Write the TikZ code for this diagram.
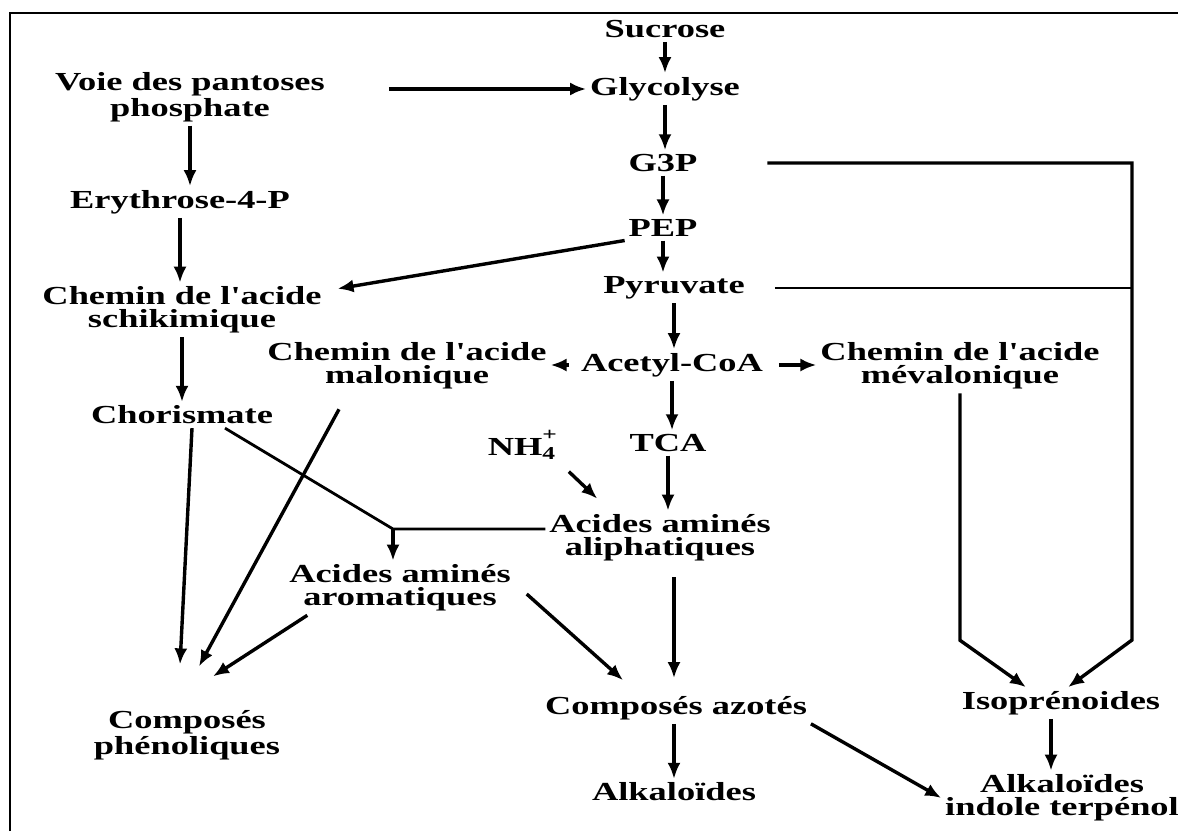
\documentclass[tikz,border=0pt]{standalone}
\usepackage{fontspec}
\newfontfamily\lblfont{Liberation Serif}[FakeStretch=1.4]
\usepackage{tikz}
\usetikzlibrary{arrows.meta}

\begin{document}
\begin{tikzpicture}[x=0.5pt,y=-0.5pt,
    lbl/.style={font=\lblfont\bfseries\fontsize{13}{11.5}\selectfont,align=center,inner sep=0pt,outer sep=2pt},
    arr/.style={-{Latex[length=8pt,width=6.5pt]},line width=1.7pt},
    ln/.style={line width=1.4pt}]
    \useasboundingbox (0,0) rectangle (1178,831);
    \draw[line width=1pt] (10,831) -- (10,13) -- (1178,13);

    % central column
    \node[lbl] (suc) at (665,29) {Sucrose};
    \node[lbl] (gly) at (665,89) {Glycolyse};
    \node[lbl] (gtp) at (663,163) {G3P};
    \node[lbl] (pep) at (663,228) {PEP};
    \node[lbl] (pyr) at (674,288) {Pyruvate};
    \node[lbl] (acoa) at (672,365) {Acetyl-CoA};
    \node[lbl] (tca) at (668,443) {TCA};
    \node[lbl] (nh) at (522,445) {NH\rlap{\raisebox{3pt}{\textsuperscript{+}}}\textsubscript{4}};
    \node[lbl] (aliph) at (660,538) {Acides aminés\\aliphatiques};
    \node[lbl] (azo) at (676,708) {Composés azotés};
    \node[lbl] (alk) at (674,792) {Alkaloïdes};

    % left column
    \node[lbl] (voie) at (190,97) {Voie des pantoses\\phosphate};
    \node[lbl] (ery) at (180,202) {Erythrose-4-P};
    \node[lbl] (shik) at (182,310) {Chemin de l'acide\\schikimique};
    \node[lbl] (chor) at (182,415) {Chorismate};
    \node[lbl] (malo) at (407,366) {Chemin de l'acide\\malonique};
    \node[lbl] (arom) at (400,588) {Acides aminés\\aromatiques};
    \node[lbl] (phen) at (187,735) {Composés\\phénoliques};

    % right column
    \node[lbl] (meva) at (960,366) {Chemin de l'acide\\mévalonique};
    \node[lbl] (iso) at (1061,703) {Isoprénoides};
    \node[lbl] (ind) at (1062,798) {Alkaloïdes\\indole terpénol};

    \coordinate (jn) at (393,529);
    \coordinate (rail) at (1132,640);

    \draw[arr] (suc.south) -- (suc.south |- gly.north);
    \draw[arr,shorten <=30pt] (gly.west -| voie.east) -- (gly.west);
    \draw[arr] (gly.south) -- (gly.south |- gtp.north);
    \draw[arr] (gtp.south) -- (gtp.south |- pep.north);
    \draw[arr] (pep.south) -- (pep.south |- pyr.north);
    \draw[arr] (voie) -- (voie |- ery.north);
    \draw[arr] (ery.south) -- (ery.south |- shik.north);
    \draw[arr] (pep.south west) -- ([shift={(6pt,-3pt)}]shik.north east);
    \draw[arr] (shik) -- (chor);
    \draw[arr] (pyr) -- (pyr |- acoa.north);
    \draw[arr,shorten <=4pt] (acoa) -- (malo.east |- acoa);
    \draw[arr,shorten <=6pt] (acoa) -- (meva.west |- acoa);
    \draw[arr] (acoa.south) -- (acoa.south |- tca.north);
    \draw[arr] (tca.south) -- (tca.south |- aliph.north);
    \draw[arr,shorten <=6pt] (nh.south east) -- ([shift={(26pt,6pt)}]aliph.north west);

    \draw[ln] ([xshift=-26pt]chor.south east) -- (jn) -- (jn -| aliph.west);
    \draw[arr] (jn) -- (jn |- arom.north);

    \draw[arr] ([xshift=5pt]chor.south) -- ([shift={(-3.5pt,21pt)}]phen.north);
    \draw[arr] ([shift={(-34pt,-8pt)}]malo.south) -- ([shift={(6pt,20pt)}]phen.north);
    \draw[arr] ([xshift=11pt]arom.south west) -- ([shift={(13pt,15pt)}]phen.north);
    \draw[arr] ([shift={(6pt,-3pt)}]arom.east) -- ([shift={(41pt,6pt)}]azo.north west);
    \draw[arr,shorten <=6pt] (aliph.south -| alk.north) -- ([yshift=7pt]azo.north -| alk.north);
    \draw[arr] (azo.south -| alk.north) -- (alk.north);
    \draw[arr] (azo.south east) -- (ind.west);
    \draw[arr] ([xshift=-5pt]iso.south) -- ([xshift=-5pt]iso.south |- ind.north);

    \draw[arr] (meva.south) -- ++(0,247) -- ([xshift=-17.5pt]iso.north);
    \draw[arr,shorten <=33pt] (gtp.east) -| (rail) -- ([xshift=3.5pt]iso.north);
    \draw[ln,shorten <=13pt] (pyr.east) -- (pyr.east -| rail);
\end{tikzpicture}
\end{document}
